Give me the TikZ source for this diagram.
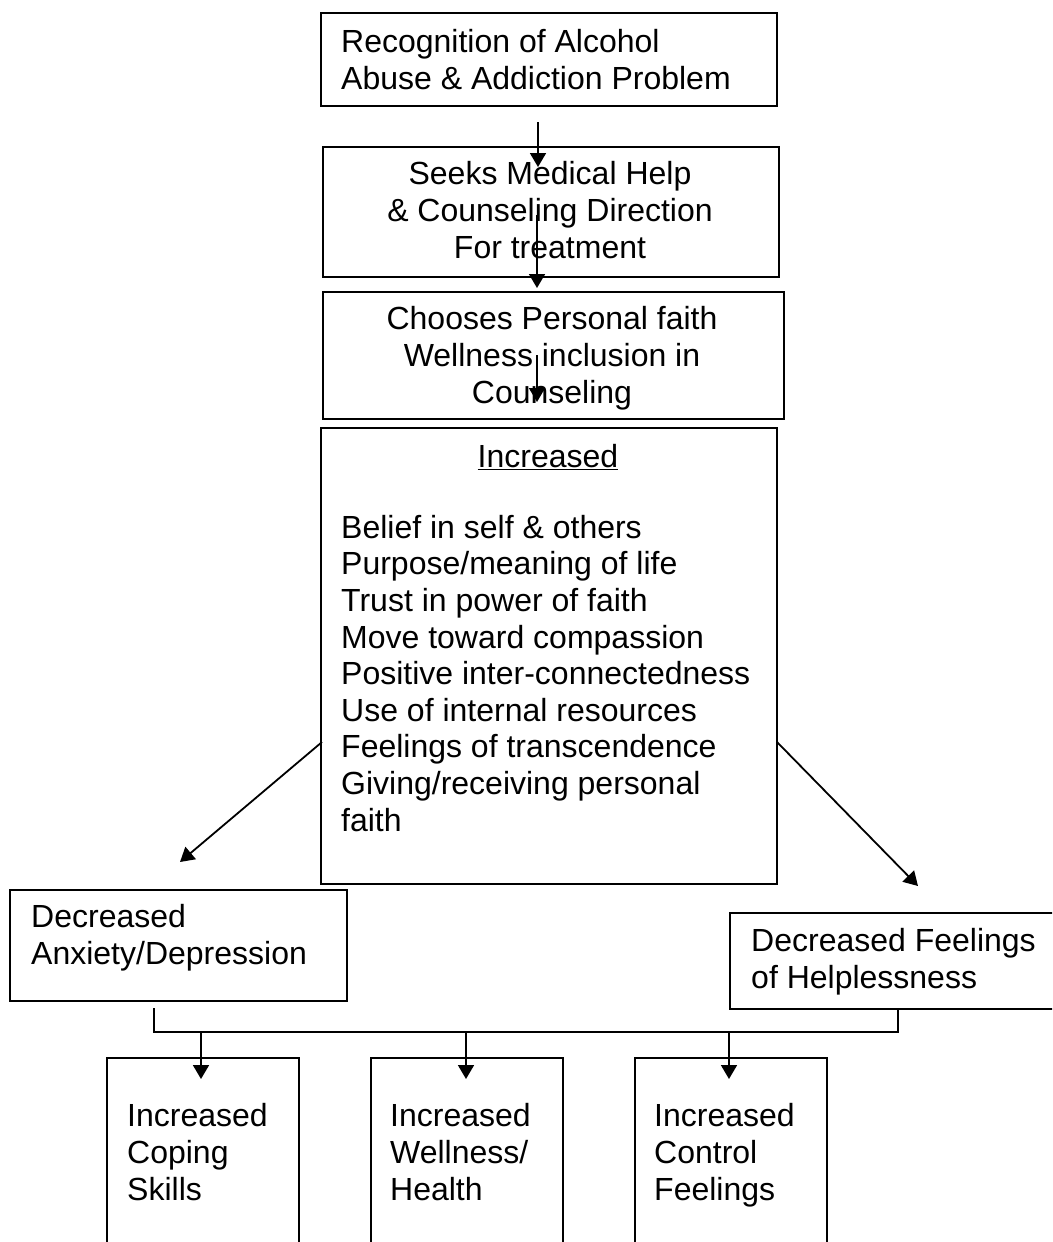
\documentclass[tikz,border=0pt]{standalone}
\usepackage{fontspec}
\setmainfont{Liberation Sans}
\usetikzlibrary{arrows.meta}
\tikzset{
  box/.style={draw, line width=1.8pt, rectangle, inner sep=0pt, anchor=north west},
  txt/.style={inner sep=0pt, font=\fontsize{32}{36.6}\selectfont},
  txtl/.style={txt, align=left, anchor=base west},
  txtc/.style={txt, align=center, anchor=base},
  conn/.style={line width=1.8pt},
  arr/.style={line width=1.8pt, -{Triangle[length=14pt,width=16pt]}}
}
\begin{document}
\begin{tikzpicture}[x=1pt,y=-1pt]
\useasboundingbox (0,0) rectangle (1052,1242);
\clip (0,0) rectangle (1052,1242);
% boxes
\node[box, minimum width=456pt, minimum height=93pt] (b1) at (320,12) {};
\node[box, minimum width=456pt, minimum height=130pt] (b2) at (322,146) {};
\node[box, minimum width=461pt, minimum height=127pt] (b3) at (322,291) {};
\node[box, minimum width=456pt, minimum height=456pt] (b4) at (320,427) {};
\node[box, minimum width=337pt, minimum height=111pt] (b5) at (9,889) {};
\node[box, minimum width=340pt, minimum height=96pt] (b6) at (729,912) {};
\node[box, minimum width=192pt, minimum height=220pt] (c1) at (106,1057) {};
\node[box, minimum width=192pt, minimum height=220pt] (c2) at (370,1057) {};
\node[box, minimum width=192pt, minimum height=220pt] (c3) at (634,1057) {};
% texts
\node[txtl] (t1) at (341,89) {Recognition of Alcohol\\Abuse \& Addiction Problem};
\node[txtc] (t2) at (550,258) {Seeks Medical Help\\\& Counseling Direction\\For treatment};
\begin{scope}
\clip (322,291) rectangle (783,409);
\node[txtc] (t3) at (552,403) {Chooses Personal faith\\Wellness inclusion in\\Counseling};
\end{scope}
\node[txtc] (t4h) at (548,467) {\underline{Increased}};
\node[txtl] (t4) at (341,831) {Belief in self \& others\\Purpose/meaning of life\\Trust in power of faith\\Move toward compassion\\Positive inter-connectedness\\Use of internal resources\\Feelings of transcendence\\Giving/receiving personal\\faith};
\node[txtl] (t5) at (31,964) {Decreased\\Anxiety/Depression};
\node[txtl] (t6) at (751,988) {Decreased Feelings\\of Helplessness};
\node[txtl] (tc1) at (127,1200) {Increased\\Coping\\Skills};
\node[txtl] (tc2) at (390,1200) {Increased\\Wellness/\\Health};
\node[txtl] (tc3) at (654,1200) {Increased\\Control\\Feelings};
% connector coordinates
\coordinate (a1s) at (538,122); \coordinate (a1e) at (538,167);
\coordinate (a2s) at (537,215); \coordinate (a2e) at (537,288);
\coordinate (a3s) at (537,355); \coordinate (a3e) at (537,402);
\coordinate (ls) at (322,742); \coordinate (le) at (180,862);
\coordinate (rs) at (777,742); \coordinate (re) at (918,886);
\coordinate (j1) at (154,1008); \coordinate (j2) at (898,1008);
\coordinate (d1) at (201,1032); \coordinate (d2) at (466,1032); \coordinate (d3) at (729,1032);
\coordinate (e1) at (201,1079); \coordinate (e2) at (466,1079); \coordinate (e3) at (729,1079);
% connectors
\draw[arr] (a1s) -- (a1e);
\draw[arr] (a2s) -- (a2e);
\draw[arr] (a3s) -- (a3e);
\draw[arr] (ls) -- (le);
\draw[arr] (rs) -- (re);
\draw[conn] (j1) |- (d2) -| (j2);
\draw[arr] (d1) -- (e1);
\draw[arr] (d2) -- (e2);
\draw[arr] (d3) -- (e3);
\end{tikzpicture}
\end{document}
